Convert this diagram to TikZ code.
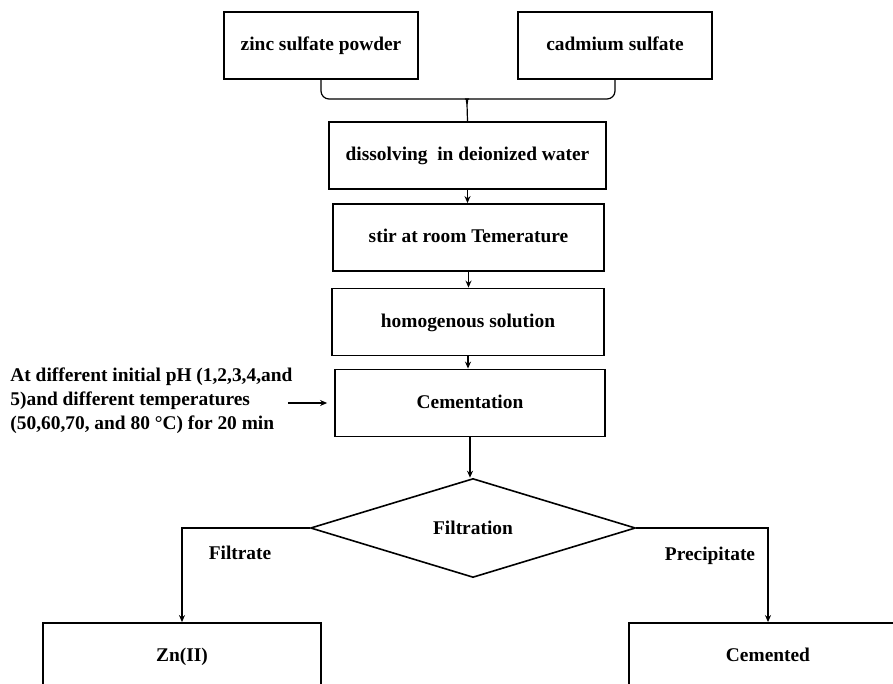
\documentclass[tikz,border=0pt]{standalone}
\usepackage{fontspec}
\setmainfont{Liberation Serif}
\usetikzlibrary{arrows.meta,positioning,shapes.geometric}

\begin{document}
\begin{tikzpicture}[x=0.5pt,y=-0.5pt,
  txt/.style={font=\fontsize{9.7}{12}\selectfont\bfseries},
  box/.style={draw,line width=0.9pt,txt,minimum width=#1,minimum height=33.5pt,inner sep=0pt,text height=7pt,text depth=2pt},
  decision/.style={draw,diamond,line width=0.8pt,txt,aspect=3.3,inner sep=0pt,minimum width=162.5pt,minimum height=49.5pt},
  line/.style={line width=0.6pt},
  arr/.style={line,-{Stealth[length=3.5pt,width=3pt]}}]
  \useasboundingbox (0,0) rectangle (893,684);
  \clip (0,0) rectangle (893,684);
  \node[box=97pt] (zinc) at (321,45.5) {zinc sulfate powder};
  \node[box=97pt] (cadmium) at (615,45.5) {cadmium sulfate};
  \node[box=138.5pt] (dissolve) at (467.5,155.5) {dissolving\ \ in deionized water};
  \node[box=135.5pt] (stir) at (468.5,237.5) {stir at room Temerature};
  \node[box=136pt] (homog) at (468,322) {homogenous solution};
  \node[box=135pt] (cement) at (470,403) {Cementation};
  \node[decision] (filtr) at (473,528) {Filtration};
  \node[box=139pt] (znii) at (182,656.5) {Zn(II)};
  \node[box=139pt] (cemented) at (768,656.5) {Cemented};
  \node[txt,align=left,anchor=west,inner sep=0pt] (cond) at (10,401)
    {At different initial pH (1,2,3,4,and\\5)and different temperatures\\(50,60,70, and 80 °C) for 20 min};
  \node[txt] (filtrate) at (240,553) {Filtrate};
  \node[txt] (precip) at (710,556) {Precipitate};
  \coordinate (joint) at (467,104);
  \draw[line,rounded corners=4pt] (zinc.south) -- (zinc.south |- 0,99) -- (461,99) .. controls (466,99) .. (joint);
  \draw[line,rounded corners=4pt] (cadmium.south) -- (cadmium.south |- 0,99) -- (473,99) .. controls (468,99) .. (joint);
  \draw[line] (joint) -- (dissolve.north);
  \draw[arr] (dissolve.south) -- (dissolve.south |- stir.north);
  \draw[arr] (stir.south) -- (stir.south |- homog.north);
  \draw[arr] (homog.south) -- (homog.south |- cement.north);
  \draw[arr] ([xshift=-2.5pt]cond.east |- cement.west) -- ([xshift=-3.5pt]cement.west);
  \draw[arr] (cement.south) -- (cement.south |- filtr.north);
  \draw[arr] (filtr.west) -| (znii.north);
  \draw[arr] (filtr.east) -| (cemented.north);
\end{tikzpicture}
\end{document}
